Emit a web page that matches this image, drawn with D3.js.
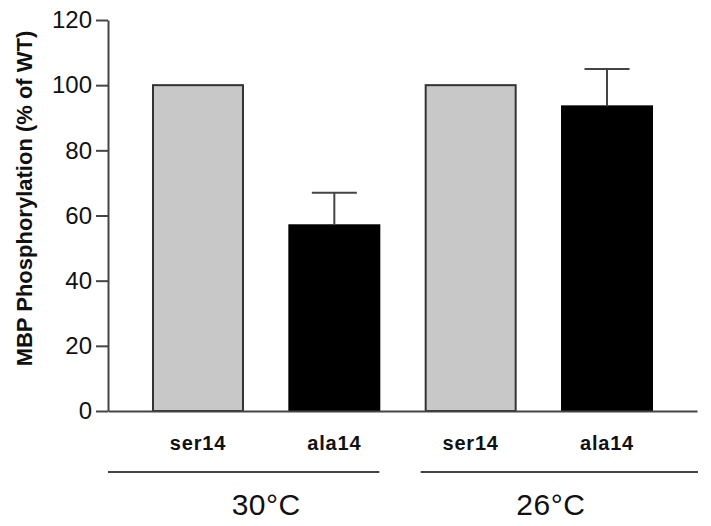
<!DOCTYPE html>
<html>
<head>
<meta charset="utf-8">
<script src="https://cdn.jsdelivr.net/npm/d3@7"></script>
<style>
  body { margin: 0; background: #fff; }
  svg { display: block; font-family: "Liberation Sans", Arial, Helvetica, sans-serif; }
</style>
</head>
<body>
<div id="chart"></div>
<script>
const strains = ["ser14", "ala14", "ser14", "ala14"];
const temps = ["30°C", "30°C", "26°C", "26°C"];
const values = [100, 57, 100, 93.5];
const errors = [0, 10, 0, 11.5];
const groups = ["30°C", "26°C"];
const yTicks = [0, 20, 40, 60, 80, 100, 120];

const W = 711, H = 526;
const plot = { left: 108, right: 697, top: 20, bottom: 411 };

const data = strains.map((s, i) => ({
  id: i, strain: s, temp: temps[i], value: values[i], err: errors[i]
}));

const svg = d3.select("#chart").append("svg")
  .attr("width", W).attr("height", H);

const x = d3.scaleBand()
  .domain(data.map(d => d.id))
  .range([plot.left, plot.right])
  .paddingInner(0.34)
  .paddingOuter(0.33);

const y = d3.scaleLinear()
  .domain([0, 120])
  .range([plot.bottom, plot.top]);

const axisColor = "#444";

// bars
svg.append("g").selectAll("rect")
  .data(data)
  .join("rect")
  .attr("x", d => x(d.id))
  .attr("y", d => y(d.value))
  .attr("width", x.bandwidth())
  .attr("height", d => y(0) - y(d.value))
  .attr("fill", d => d.strain === "ser14" ? "#c8c8c8" : "#000")
  .attr("stroke", d => d.strain === "ser14" ? "#333" : "#000")
  .attr("stroke-width", 2);

// error bars (upper only)
const eb = svg.append("g").selectAll("g")
  .data(data.filter(d => d.err > 0))
  .join("g")
  .attr("stroke", axisColor)
  .attr("stroke-width", 2);

eb.append("line")
  .attr("x1", d => x(d.id) + x.bandwidth() / 2)
  .attr("x2", d => x(d.id) + x.bandwidth() / 2)
  .attr("y1", d => y(d.value))
  .attr("y2", d => y(d.value + d.err));

eb.append("line")
  .attr("x1", d => x(d.id) + x.bandwidth() / 4)
  .attr("x2", d => x(d.id) + x.bandwidth() * 3 / 4)
  .attr("y1", d => y(d.value + d.err))
  .attr("y2", d => y(d.value + d.err));

// y axis
const yAxis = svg.append("g")
  .attr("transform", `translate(${plot.left},0)`)
  .call(d3.axisLeft(y).tickValues(yTicks).tickSize(12).tickSizeOuter(0).tickPadding(4));
yAxis.selectAll("path, line").attr("stroke", axisColor).attr("stroke-width", 2);
yAxis.selectAll("text")
  .attr("font-size", 24)
  .attr("fill", "#111")
  .attr("font-family", "'Liberation Sans', Arial, sans-serif");

// x axis baseline
const xAxis = svg.append("g")
  .attr("transform", `translate(0,${plot.bottom})`)
  .call(d3.axisBottom(x).tickSize(0).tickSizeOuter(0).tickFormat(""));
xAxis.select(".domain").attr("stroke", axisColor).attr("stroke-width", 2);

// strain labels
svg.append("g").selectAll("text")
  .data(data)
  .join("text")
  .attr("x", d => x(d.id) + x.bandwidth() / 2)
  .attr("y", 450)
  .attr("text-anchor", "middle")
  .attr("font-size", 20)
  .attr("font-weight", "bold")
  .attr("letter-spacing", 0.8)
  .attr("fill", "#111")
  .text(d => d.strain);

// group brackets and temperature labels
const groupInfo = groups.map((g, gi) => {
  const members = data.filter(d => d.temp === g);
  const x0 = x(members[0].id);
  const x1 = x(members[members.length - 1].id) + x.bandwidth();
  return {
    name: g,
    lineStart: gi === 0 ? plot.left : x0 - 5,
    lineEnd: gi === 0 ? x1 : plot.right + 1,
    mid: (x0 + x1) / 2 + (gi === 0 ? 0 : 12)
  };
});

const gg = svg.append("g").selectAll("g").data(groupInfo).join("g");
gg.append("line")
  .attr("x1", d => d.lineStart)
  .attr("x2", d => d.lineEnd)
  .attr("y1", 472).attr("y2", 472)
  .attr("stroke", axisColor)
  .attr("stroke-width", 2);
gg.append("text")
  .attr("x", d => d.mid)
  .attr("y", 515)
  .attr("text-anchor", "middle")
  .attr("font-size", 30)
  .attr("letter-spacing", 0.5)
  .attr("fill", "#111")
  .text(d => d.name);

// y axis title
svg.append("text")
  .attr("transform", `translate(32,${(plot.top + 10 + 367) / 2}) rotate(-90)`)
  .attr("text-anchor", "middle")
  .attr("font-size", 22)
  .attr("font-weight", "bold")
  .attr("fill", "#111")
  .text("MBP Phosphorylation (% of WT)");
</script>
</body>
</html>
